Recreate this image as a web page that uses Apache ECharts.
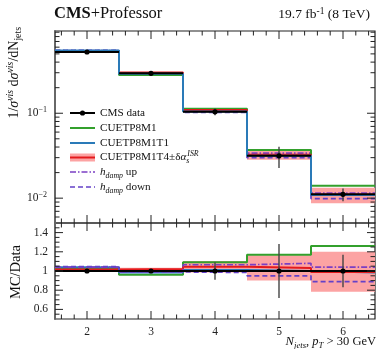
<!DOCTYPE html>
<html>
<head>
<meta charset="utf-8">
<script src="https://cdn.jsdelivr.net/npm/echarts@6/dist/echarts.min.js"></script>
<style>html,body{margin:0;padding:0;background:#fff}#chart{width:378px;height:349px}</style>
</head>
<body>
<div id="chart"></div>
<script>
// bins in N_jets
var edges = [1.5, 2.5, 3.5, 4.5, 5.5, 6.5];
var nJets = [2, 3, 4, 5, 6];

// top panel: 1/sigma dsigma/dNjets
var cmsData = [0.526, 0.295, 0.104, 0.0315, 0.0111];
var cmsErr = [0.02, 0.02, 0.09, 0.28, 0.17]; // relative
var m1 = [0.539, 0.283, 0.113, 0.0369, 0.0140];
var t1 = [0.547, 0.291, 0.105, 0.0315, 0.0109];
var t4 = [0.534, 0.301, 0.109, 0.0324, 0.0110];
var t4Lo = [0.529, 0.295, 0.102, 0.0284, 0.0087];
var t4Hi = [0.542, 0.305, 0.115, 0.0367, 0.0133];
var hdUp = [0.547, 0.292, 0.111, 0.0340, 0.0115];
var hdDown = [0.550, 0.292, 0.102, 0.0299, 0.0099];

// bottom panel: MC/Data
var rM1 = [1.025, 0.96, 1.09, 1.17, 1.26];
var rT1 = [1.04, 0.985, 1.01, 1.0, 0.985];
var rT4 = [1.015, 1.02, 1.045, 1.03, 0.99];
var rT4Lo = [1.005, 1.0, 0.985, 0.90, 0.785];
var rT4Hi = [1.03, 1.035, 1.105, 1.165, 1.2];
var rUp = [1.04, 0.99, 1.065, 1.08, 1.04];
var rDown = [1.045, 0.99, 0.985, 0.95, 0.89];

// ticks
var xMajor = [2, 3, 4, 5, 6];
var xMinor = [1.6, 1.8, 2.2, 2.4, 2.6, 2.8, 3.2, 3.4, 3.6, 3.8, 4.2, 4.4, 4.6, 4.8,
              5.2, 5.4, 5.6, 5.8, 6.2, 6.4];
var logMajor = [0.01, 0.1];
var logMinor = [0.006, 0.007, 0.008, 0.009, 0.02, 0.03, 0.04, 0.05, 0.06, 0.07, 0.08, 0.09,
                0.2, 0.3, 0.4, 0.5, 0.6, 0.7, 0.8, 0.9];
var ratioMajor = [0.6, 0.8, 1.0, 1.2, 1.4];
var ratioMinor = [0.55, 0.65, 0.7, 0.75, 0.85, 0.9, 0.95, 1.05, 1.1, 1.15, 1.25, 1.3, 1.35, 1.45];
var ratioLabels = ['0.6', '0.8', '1', '1.2', '1.4'];

var SERIF = 'Liberation Serif';
var GREEN = '#33a02c', BLUE = '#2a7ab8', RED = '#e41a1c', PINK = '#fca3a3';
var PURPLE1 = '#7b3fc4', PURPLE2 = '#6441c8';

function ft(size, style, weight) {
    return {fontFamily: SERIF, fontSize: size, fontStyle: style || 'normal', fontWeight: weight || 'normal', fill: '#111'};
}
function sup(size) { var o = ft(size, 'normal'); o.verticalAlign = 'top'; o.lineHeight = size; return o; }
function sub(size) { var o = ft(size, 'normal'); o.verticalAlign = 'bottom'; o.lineHeight = size; return o; }
function richSet(base) {
    var s = sup(base * 0.7), b = sub(base * 0.7);
    var si = sup(base * 0.7); si.fontStyle = 'italic';
    var bi = sub(base * 0.7); bi.fontStyle = 'italic';
    var bz = sub(base * 0.7); bz.fontStyle = 'italic'; bz.width = 1; // stacked under the superscript
    return {n: ft(base), i: ft(base, 'italic'), b: ft(base, 'normal', 'bold'), sup: s, sub: b, supi: si, subi: bi, subz: bz};
}

var chart = echarts.init(document.getElementById('chart'));

function steps(vals) {
    var pts = [];
    for (var i = 0; i < vals.length; i++) pts.push([edges[i], vals[i]]);
    pts.push([edges[vals.length], vals[vals.length - 1]]);
    return pts;
}

function histLine(vals, color, dash, idx, width) {
    return {
        type: 'line', xAxisIndex: idx, yAxisIndex: idx, step: 'end',
        data: steps(vals), symbol: 'none', silent: true,
        lineStyle: {color: color, width: width || 2, type: dash || 'solid'}
    };
}

function band(lo, hi, idx) {
    return {
        type: 'custom', xAxisIndex: idx, yAxisIndex: idx, silent: true,
        data: nJets.map(function(n, i) { return [n, lo[i], hi[i]]; }),
        renderItem: function(params, api) {
            var i = params.dataIndex;
            var a = api.coord([edges[i], api.value(2)]);
            var b = api.coord([edges[i + 1], api.value(1)]);
            return {type: 'rect', shape: {x: a[0], y: a[1], width: b[0] - a[0], height: b[1] - a[1]},
                    style: {fill: PINK}};
        }
    };
}

// data points: horizontal bar over bin, vertical error bar
function dataMarks(vals, lo, hi, idx) {
    return {
        type: 'custom', xAxisIndex: idx, yAxisIndex: idx, silent: true, z: 5,
        data: nJets.map(function(n, i) { return [n, vals[i], lo[i], hi[i]]; }),
        renderItem: function(params, api) {
            var i = params.dataIndex;
            var l = api.coord([edges[i], api.value(1)]);
            var r = api.coord([edges[i + 1], api.value(1)]);
            var t = api.coord([api.value(0), api.value(3)]);
            var b = api.coord([api.value(0), api.value(2)]);
            return {type: 'group', children: [
                {type: 'line', shape: {x1: l[0], y1: l[1], x2: r[0], y2: r[1]}, style: {stroke: '#000', lineWidth: 2}},
                {type: 'line', shape: {x1: t[0], y1: t[1], x2: b[0], y2: b[1]}, style: {stroke: '#444', lineWidth: 1.4}},
                {type: 'circle', shape: {cx: l[0] + (r[0] - l[0]) / 2, cy: l[1], r: 2.6}, style: {fill: '#000'}}
            ]};
        }
    };
}

// axis ticks, ends: [{at, dir, both}]
function ticks(idx, list, axis, ends, len) {
    return {
        type: 'custom', xAxisIndex: idx, yAxisIndex: idx, silent: true, z: 10,
        data: list.map(function(v) { return axis === 'x' ? [v, ends[0].at] : [ends[0].at, v]; }),
        renderItem: function(params, api) {
            var v = list[params.dataIndex];
            var kids = [];
            ends.forEach(function(e) {
                var p = axis === 'x' ? api.coord([v, e.at]) : api.coord([e.at, v]);
                var x1 = p[0], y1 = p[1], x2 = p[0], y2 = p[1];
                if (axis === 'x') { y2 = p[1] + e.dir * len; if (e.both) y1 = p[1] - e.dir * len; }
                else { x2 = p[0] + e.dir * len; }
                kids.push({type: 'line', shape: {x1: x1, y1: y1, x2: x2, y2: y2}, style: {stroke: '#222', lineWidth: 1}});
            });
            return {type: 'group', children: kids};
        }
    };
}

var topLo = cmsData.map(function(v, i) { return v * (1 - cmsErr[i]); });
var topHi = cmsData.map(function(v, i) { return v * (1 + cmsErr[i]); });
var ones = nJets.map(function() { return 1; });
var rLo = cmsErr.map(function(e) { return 1 - e; });
var rHi = cmsErr.map(function(e) { return 1 + e; });

var xEnds0 = [{at: 0.93, dir: 1}, {at: 0.0051, dir: -1, both: true}];
var xEnds1 = [{at: 0.5, dir: -1}];
var yEnds = [{at: 1.5, dir: 1}, {at: 6.5, dir: -1}];

var series = [
    band(t4Lo, t4Hi, 0),
    histLine(hdUp, PURPLE1, [6, 2, 1.5, 2], 0, 1.7),
    histLine(hdDown, PURPLE2, [5, 3], 0, 1.7),
    histLine(m1, GREEN, null, 0),
    histLine(t4, RED, null, 0),
    histLine(t1, BLUE, null, 0),
    dataMarks(cmsData, topLo, topHi, 0),
    band(rT4Lo, rT4Hi, 1),
    histLine(rM1, GREEN, null, 1),
    histLine(rT1, BLUE, null, 1),
    histLine(rT4, RED, null, 1),
    histLine(rUp, PURPLE1, [6, 2, 1.5, 2], 1, 1.7),
    histLine(rDown, PURPLE2, [5, 3], 1, 1.7),
    dataMarks(ones, rLo, rHi, 1),
    ticks(0, xMajor, 'x', xEnds0, 8),
    ticks(0, xMinor, 'x', xEnds0, 4.5),
    ticks(0, logMajor, 'y', yEnds, 8),
    ticks(0, logMinor, 'y', yEnds, 4.5),
    ticks(1, xMajor, 'x', xEnds1, 8),
    ticks(1, xMinor, 'x', xEnds1, 4.5),
    ticks(1, ratioMajor, 'y', yEnds, 8),
    ticks(1, ratioMinor, 'y', yEnds, 4.5)
];

var legendRows = [113, 128, 143, 157.5, 172, 187];
var lx0 = 70, lx1 = 95, ltx = 100;
var RL = richSet(11.2);

var graphic = [
    // title
    {type: 'text', x: 54, y: 14, style: {text: '{b|CMS}{n|+Professor}', rich: richSet(16.5),
        textAlign: 'left', textVerticalAlign: 'middle', align: 'left', verticalAlign: 'middle'}},
    {type: 'text', x: 370, y: 14, style: {text: '{n|19.7 fb}{sup|-1}{n| (8 TeV)}', rich: richSet(13.5), lineHeight: 14,
        textAlign: 'right', textVerticalAlign: 'middle', align: 'right', verticalAlign: 'middle'}},
    // axis titles
    {type: 'text', x: 14, y: 27, rotation: Math.PI / 2,
        style: {text: '{n|1/}{i|σ}{supi|vis}{n| d}{i|σ}{supi|vis}{n|/dN}{sub|jets}', rich: richSet(14), lineHeight: 18,
            textAlign: 'right', textVerticalAlign: 'middle', align: 'right', verticalAlign: 'middle'}},
    {type: 'text', x: 16, y: 272, rotation: Math.PI / 2,
        style: {text: '{n|MC/Data}', rich: richSet(14.5), lineHeight: 16,
            textAlign: 'center', textVerticalAlign: 'middle', align: 'center', verticalAlign: 'middle'}},
    {type: 'text', x: 376, y: 342,
        style: {text: '{i|N}{subi|jets}{n|, }{i|p}{subi|T}{n| > 30 GeV}', rich: richSet(12.5), lineHeight: 16,
            textAlign: 'right', textVerticalAlign: 'middle', align: 'right', verticalAlign: 'middle'}}
];

// legend
var legendItems = [
    {text: '{n|CMS data}', color: '#000', dash: null},
    {text: '{n|CUETP8M1}', color: GREEN, dash: null},
    {text: '{n|CUETP8M1T1}', color: BLUE, dash: null},
    {text: '{n|CUETP8M1T4±δ}{i|α}{subz|s}{supi|ISR}', color: RED, dash: null, band: true},
    {text: '{i|h}{subi|damp}{n| up}', color: PURPLE1, dash: [6, 2, 1.5, 2]},
    {text: '{i|h}{subi|damp}{n| down}', color: PURPLE2, dash: [5, 3]}
];
legendItems.forEach(function(it, k) {
    var y = legendRows[k];
    if (it.band) graphic.push({type: 'rect', shape: {x: lx0, y: y - 4, width: lx1 - lx0, height: 8}, style: {fill: PINK}});
    graphic.push({type: 'line', shape: {x1: lx0, y1: y, x2: lx1, y2: y},
        style: {stroke: it.color, lineWidth: it.dash ? 1.7 : 2, lineDash: it.dash}});
    if (k === 0) graphic.push({type: 'circle', shape: {cx: (lx0 + lx1) / 2, cy: y, r: 2.6}, style: {fill: '#000'}});
    graphic.push({type: 'text', x: ltx, y: y, style: {text: it.text, rich: RL, lineHeight: 15,
        textAlign: 'left', textVerticalAlign: 'middle', align: 'left', verticalAlign: 'middle'}});
});

var hidden = {show: false};
var option = {
    animation: false,
    backgroundColor: '#fff',
    grid: [
        {left: 55, right: 3, top: 31, height: 192, show: true, borderColor: '#222', borderWidth: 1.2},
        {left: 55, right: 3, top: 223, height: 96, show: true, borderColor: '#222', borderWidth: 1.2}
    ],
    xAxis: [
        {type: 'value', gridIndex: 0, min: 1.5, max: 6.5, axisLabel: hidden, axisTick: hidden, axisLine: hidden, splitLine: hidden},
        {type: 'value', gridIndex: 1, min: 1.5, max: 6.5, axisTick: hidden, axisLine: hidden, splitLine: hidden,
            axisLabel: {margin: 7, fontFamily: SERIF, fontSize: 11.5, color: '#222',
                formatter: function(v) { return xMajor.indexOf(Math.round(v * 10) / 10) >= 0 ? String(Math.round(v)) : ''; }}}
    ],
    yAxis: [
        {type: 'log', logBase: 10, gridIndex: 0, min: 0.0051, max: 0.93, axisTick: hidden, splitLine: hidden,
            axisLine: {show: true, lineStyle: {color: '#666', width: 1.8}},
            axisLabel: {margin: 8, fontFamily: SERIF, fontSize: 11.5, color: '#222', lineHeight: 14,
                formatter: function(v) {
                    var e = Math.log10(v), r = Math.round(e);
                    return Math.abs(e - r) < 1e-6 && r < 0 ? '10{s|−' + (-r) + '}' : '';
                },
                rich: {s: {fontFamily: SERIF, fontSize: 8, color: '#222', verticalAlign: 'top', lineHeight: 7}}}},
        {type: 'value', gridIndex: 1, min: 0.5, max: 1.5, axisTick: hidden, splitLine: hidden,
            axisLine: {show: true, lineStyle: {color: '#666', width: 1.8}},
            axisLabel: {margin: 7, fontFamily: SERIF, fontSize: 11.5, color: '#222',
                formatter: function(v) { var s = String(Math.round(v * 10) / 10); return ratioLabels.indexOf(s) >= 0 ? s : ''; }}}
    ],
    series: series,
    graphic: graphic
};
chart.setOption(option);
</script>
</body>
</html>
